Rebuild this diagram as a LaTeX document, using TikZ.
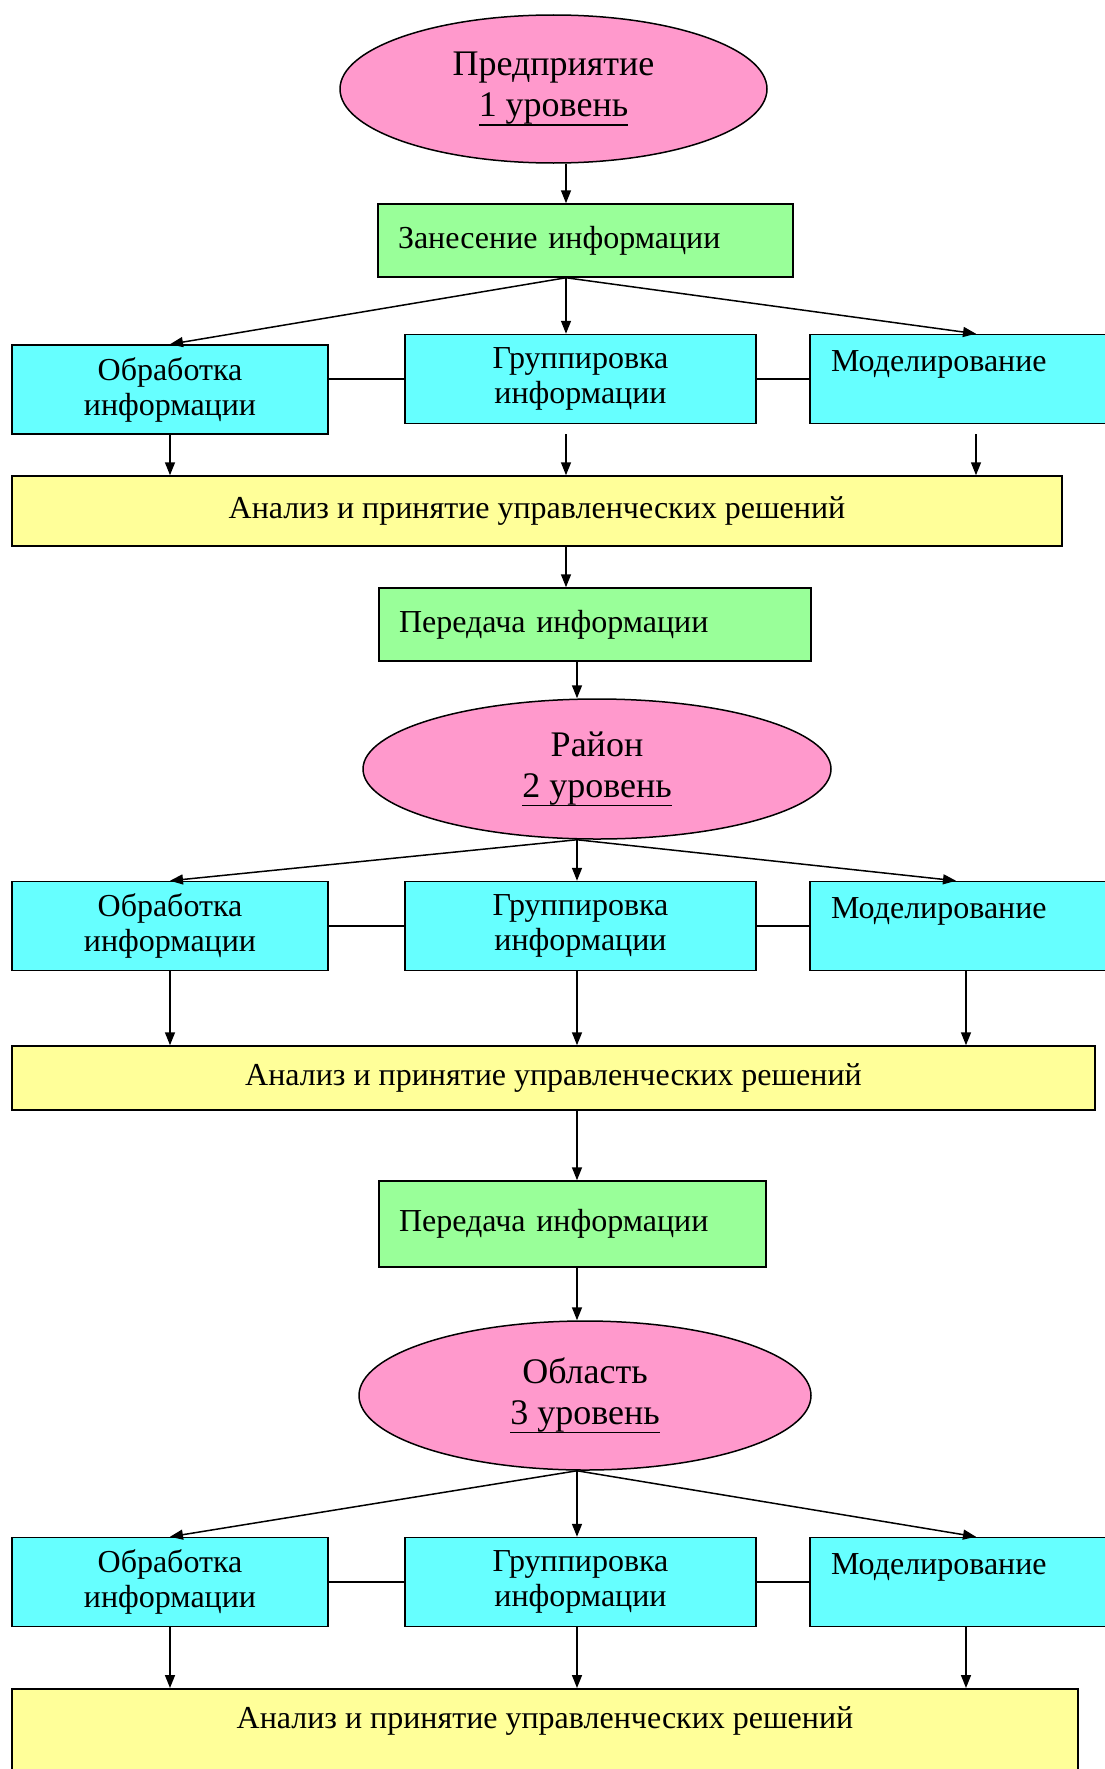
\documentclass[tikz,border=0pt]{standalone}
\usepackage{fontspec}
\setmainfont{Liberation Serif}
\usetikzlibrary{shapes.geometric,arrows.meta}
\definecolor{levelpink}{HTML}{FF99CC}
\definecolor{entrygreen}{HTML}{99FF99}
\definecolor{taskcyan}{HTML}{66FFFF}
\definecolor{decisionyellow}{HTML}{FFFF99}
\newsavebox{\levelbox}
\newcommand{\levelline}[1]{\sbox{\levelbox}{#1}\rlap{\rule[-9pt]{\wd\levelbox}{1.6pt}}\usebox{\levelbox}}
\tikzset{
    level/.style={ellipse,draw,fill=levelpink,inner sep=0pt,align=center,
        font=\fontsize{36}{41}\selectfont},
    infobox/.style={rectangle,draw,inner sep=0pt,font=\fontsize{32}{35}\selectfont},
    entry/.style={infobox,fill=entrygreen,align=left,inner xsep=20pt},
    task/.style={infobox,fill=taskcyan,minimum height=89pt},
    decision/.style={infobox,fill=decisionyellow,align=center}
}
\begin{document}
\begin{tikzpicture}[x=1pt,y=-1pt,line width=1.5pt,>={Triangle[length=13pt,width=10pt]}]
    \useasboundingbox (0,0) rectangle (1104,1769);
    \coordinate (axis1) at (566,0);
    \coordinate (axis) at (577,0);

    % level 1
    \node[level,minimum width=427pt,minimum height=148pt] (e1) at (553.5,89)
        {Предприятие\\\levelline{1 уровень}};
    \node[entry,text width=375pt,minimum height=73pt] (g1) at (585.5,240.5)
        {Занесение информации};
    \node[task,align=center,minimum width=316pt] (lb1) at (170,389.5) {Обработка\\информации};
    \node[task,align=center,minimum width=351pt] (mid1) at (580.5,379) {Группировка\\информации};
    \node[task,align=left,text width=290pt,inner xsep=21pt] (rt1) at (976,379) {Моделирование\\\mbox{}};
    \node[decision,minimum width=1050pt,minimum height=70pt] (y1) at (537,511)
        {Анализ и принятие управленческих решений};

    \draw[->] (e1.south -| axis1) -- (g1.north -| axis1);
    \draw[->] (g1.south -| axis1) -- (lb1.north);
    \draw[->] (g1.south -| axis1) -- (mid1.north -| axis1);
    \draw[->] (g1.south -| axis1) -- (rt1.north);
    \draw (mid1.west -| lb1.east) -- (mid1.west);
    \draw (mid1.east) -- (rt1.west);
    \draw[->] (lb1.south) -- (lb1.south |- y1.north);
    \draw[->,shorten <=10pt] (mid1.south -| axis1) -- (y1.north -| axis1);
    \draw[->,shorten <=10pt] (rt1.south) -- (rt1.south |- y1.north);

    % level 2
    \node[entry,text width=392pt,minimum height=73pt] (g2) at (595,624.5)
        {Передача информации};
    \node[level,minimum width=468pt,minimum height=140pt] (e2) at (597,769)
        {Район\\\levelline{2 уровень}};
    \node[task,align=center,minimum width=316pt] (lb2) at (170,926) {Обработка\\информации};
    \node[task,align=center,minimum width=351pt] (mid2) at (580.5,926) {Группировка\\информации};
    \node[task,align=left,text width=290pt,inner xsep=21pt] (rt2) at (976,926) {Моделирование\\\mbox{}};
    \node[decision,minimum width=1083pt,minimum height=64pt] (y2) at (553.5,1078)
        {Анализ и принятие управленческих решений};

    \draw[->] (y1.south -| axis1) -- (g2.north -| axis1);
    \draw[->] (g2.south -| axis) -- (e2.north -| axis);
    \draw[->] (e2.south -| axis) -- (lb2.north);
    \draw[->] (e2.south -| axis) -- (mid2.north -| axis);
    \draw[->] (e2.south -| axis) -- ([xshift=-20pt]rt2.north);
    \draw (lb2.east) -- (mid2.west);
    \draw (mid2.east) -- (rt2.west);
    \draw[->] (lb2.south) -- (lb2.south |- y2.north);
    \draw[->] (mid2.south -| axis) -- (y2.north -| axis);
    \draw[->] ([xshift=-10pt]rt2.south) -- ([xshift=-10pt]rt2.south |- y2.north);

    % level 3
    \node[entry,text width=347pt,minimum height=86pt] (g3) at (572.5,1224)
        {Передача информации};
    \node[level,minimum width=452pt,minimum height=149pt] (e3) at (585,1395.5)
        {Область\\\levelline{3 уровень}};
    \node[task,align=center,minimum width=316pt] (lb3) at (170,1582) {Обработка\\информации};
    \node[task,align=center,minimum width=351pt] (mid3) at (580.5,1582) {Группировка\\информации};
    \node[task,align=left,text width=290pt,inner xsep=21pt] (rt3) at (976,1582) {Моделирование\\\mbox{}};
    \node[decision,anchor=north,minimum width=1066pt,inner ysep=18pt,text depth=100pt] (y3) at (545,1688)
        {Анализ и принятие управленческих решений};

    \draw[->] (y2.south -| axis) -- (g3.north -| axis);
    \draw[->] (g3.south -| axis) -- (e3.north -| axis);
    \draw[->] (e3.south -| axis) -- (lb3.north);
    \draw[->] (e3.south -| axis) -- (mid3.north -| axis);
    \draw[->] (e3.south -| axis) -- (rt3.north);
    \draw (lb3.east) -- (mid3.west);
    \draw (mid3.east) -- (rt3.west);
    \draw[->] (lb3.south) -- (lb3.south |- y3.north);
    \draw[->] (mid3.south -| axis) -- (y3.north -| axis);
    \draw[->] ([xshift=-10pt]rt3.south) -- ([xshift=-10pt]rt3.south |- y3.north);
\end{tikzpicture}
\end{document}
